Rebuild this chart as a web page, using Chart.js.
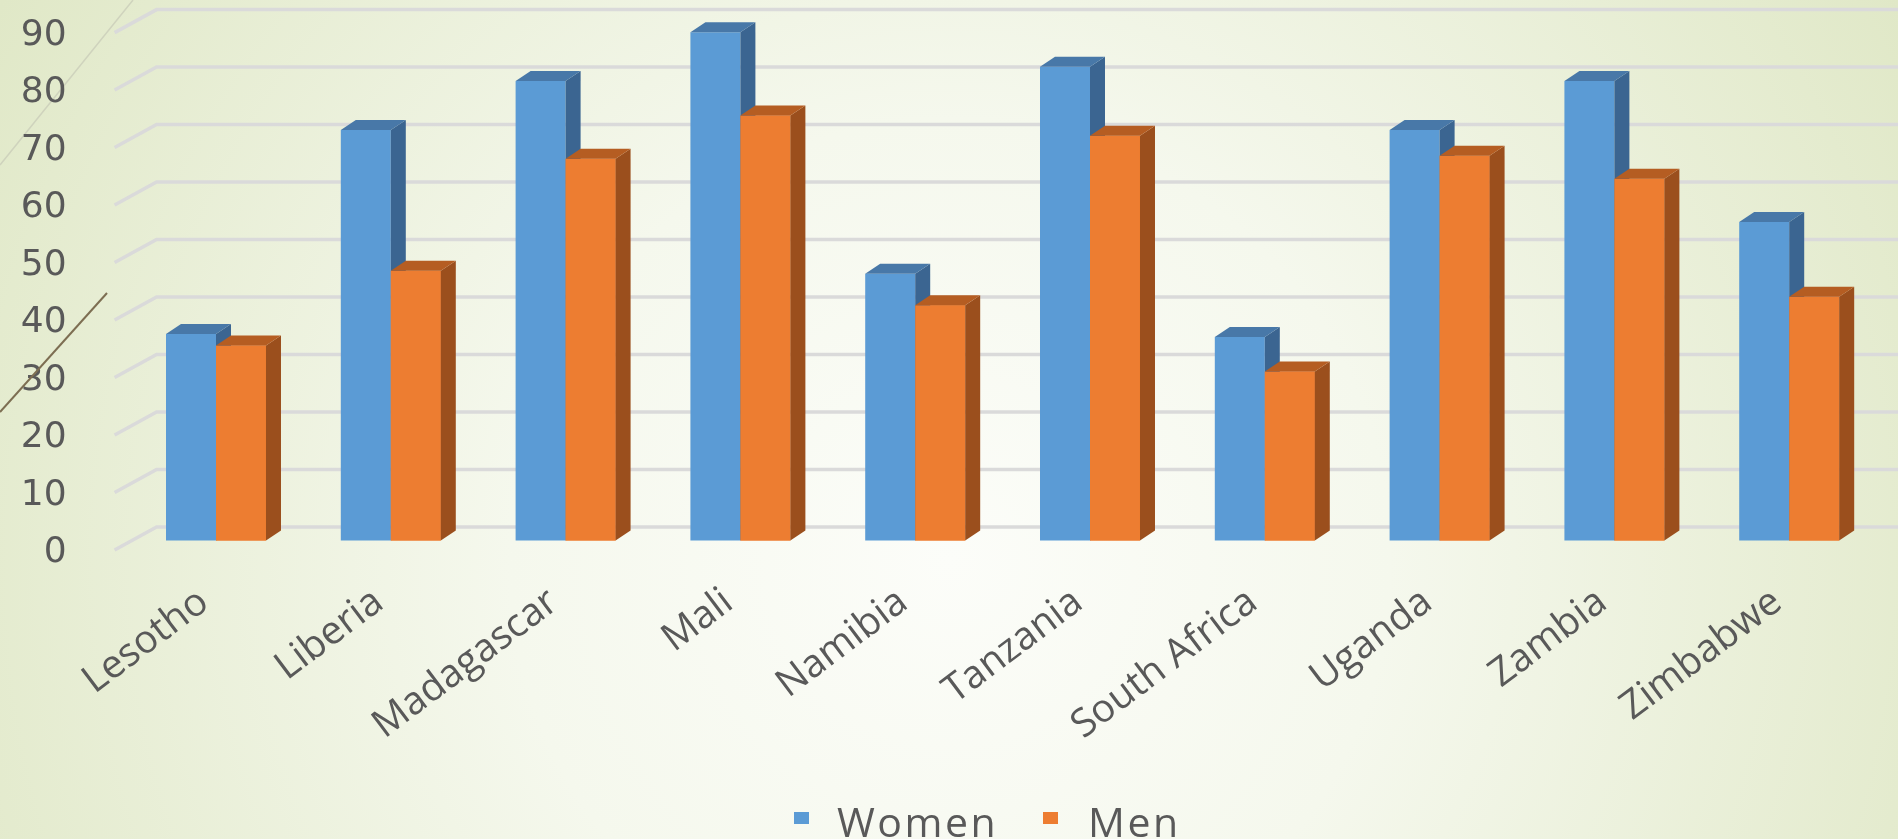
<!DOCTYPE html>
<html>
<head>
<meta charset="utf-8">
<title>Women and Men by country</title>
<script src="https://cdn.jsdelivr.net/npm/chart.js@4.4.1/dist/chart.umd.min.js"></script>
<style>
  html, body { margin: 0; padding: 0; overflow: hidden; }
  #chartContainer { width: 1898px; height: 839px; position: relative; }
</style>
</head>
<body>
<div id="chartContainer"><canvas id="myChart"></canvas></div>
<script>
"use strict";

// values
const countries = ["Lesotho", "Liberia", "Madagascar", "Mali", "Namibia",
  "Tanzania", "South Africa", "Uganda", "Zambia", "Zimbabwe"];
const women = [36, 71.5, 80, 88.5, 46.5, 82.5, 35.5, 71.5, 80, 55.5];
const men = [34, 47, 66.5, 74, 41, 70.5, 29.5, 67, 63, 42.5];
const seriesNames = ["Women", "Men"];
const yMin = 0;
const yMax = 90;
const yStep = 10;

const textColor = "#595959";
const depthX = 15;
const depthY = 10;

// slide background + the two theme strokes at top left
const backgroundPlugin = {
  id: "slideBackground",
  beforeDraw(chart) {
    const ctx = chart.ctx;
    ctx.save();
    const g = ctx.createRadialGradient(950, 560, 0, 950, 560, 1100);
    g.addColorStop(0, "#fcfdf9");
    g.addColorStop(0.4, "#f5f8ed");
    g.addColorStop(1, "#e0e8c7");
    ctx.fillStyle = g;
    ctx.fillRect(0, 0, chart.width, chart.height);

    ctx.lineWidth = 1.5;
    ctx.strokeStyle = "#cfd3bd";
    ctx.beginPath();
    ctx.moveTo(0, 165);
    ctx.lineTo(133, 0);
    ctx.stroke();
    ctx.restore();
  },
  afterDraw(chart) {
    const ctx = chart.ctx;
    ctx.save();
    ctx.lineWidth = 2;
    ctx.strokeStyle = "#7d6e52";
    ctx.beginPath();
    ctx.moveTo(0, 412);
    ctx.lineTo(107, 293);
    ctx.stroke();
    ctx.restore();
  }
};

// gridlines on the side wall and back wall
const wallGridPlugin = {
  id: "wallGrid",
  beforeDatasetsDraw(chart) {
    const ctx = chart.ctx;
    const yScale = chart.scales.y;
    const frontX = chart.chartArea.left - 14;
    const backX = frontX + 42;
    ctx.save();
    ctx.strokeStyle = "#dadada";
    ctx.lineWidth = 3.5;
    yScale.ticks.forEach(function (t) {
      const py = yScale.getPixelForValue(t.value);
      ctx.beginPath();
      ctx.moveTo(frontX, py + 9);
      ctx.lineTo(backX, py - 14);
      ctx.lineTo(chart.width, py - 14);
      ctx.stroke();
    });
    ctx.restore();
  }
};

// side and top faces of each column; later series are redrawn so they
// hide the side face of the column on their left
const columnDepthPlugin = {
  id: "columnDepth",
  afterDatasetsDraw(chart) {
    const ctx = chart.ctx;
    ctx.save();
    chart.data.datasets.forEach(function (ds, i) {
      const meta = chart.getDatasetMeta(i);
      meta.data.forEach(function (bar) {
        if (i > 0) {
          bar.draw(ctx);
        }
        const p = bar.getProps(["x", "y", "base", "width"], true);
        const l = p.x - p.width / 2;
        const r = p.x + p.width / 2;
        const top = Math.min(p.y, p.base);
        const bottom = Math.max(p.y, p.base);

        ctx.fillStyle = ds.sideColor;
        ctx.beginPath();
        ctx.moveTo(r, top);
        ctx.lineTo(r + depthX, top - depthY);
        ctx.lineTo(r + depthX, bottom - depthY);
        ctx.lineTo(r, bottom);
        ctx.closePath();
        ctx.fill();

        ctx.fillStyle = ds.topColor;
        ctx.beginPath();
        ctx.moveTo(l, top);
        ctx.lineTo(l + depthX, top - depthY);
        ctx.lineTo(r + depthX, top - depthY);
        ctx.lineTo(r, top);
        ctx.closePath();
        ctx.fill();
      });
    });
    ctx.restore();
  }
};

// legend at the bottom
const bottomLegendPlugin = {
  id: "bottomLegend",
  afterDraw(chart) {
    const ctx = chart.ctx;
    const spots = [{ box: 794, text: 837 }, { box: 1043, text: 1088 }];
    ctx.save();
    ctx.font = '41px "Open Sans"';
    ctx.letterSpacing = "2.5px";
    ctx.textBaseline = "alphabetic";
    chart.data.datasets.forEach(function (ds, i) {
      ctx.fillStyle = ds.backgroundColor;
      ctx.fillRect(spots[i].box, 812, 15, 12);
      ctx.fillStyle = textColor;
      ctx.fillText(ds.label, spots[i].text, 837);
    });
    ctx.restore();
  }
};

const chartConfig = {
  type: "bar",
  data: {
    labels: countries,
    datasets: [
      {
        label: seriesNames[0],
        data: women,
        backgroundColor: "#5b9bd5",
        sideColor: "#3b6591",
        topColor: "#4878a8",
      },
      {
        label: seriesNames[1],
        data: men,
        backgroundColor: "#ed7d31",
        sideColor: "#9b4f1d",
        topColor: "#b55d22",
      },
    ],
  },
  options: {
    responsive: true,
    maintainAspectRatio: false,
    animation: false,
    categoryPercentage: 0.572,
    barPercentage: 1.0,
    layout: {
      padding: { left: 20.6, right: 21.4, top: 23.5, bottom: 0 },
    },
    plugins: {
      legend: { display: false },
      tooltip: { enabled: false },
    },
    scales: {
      x: {
        grid: { display: false, drawTicks: false },
        border: { display: false },
        ticks: {
          autoSkip: false,
          minRotation: 37,
          maxRotation: 37,
          padding: 38,
          labelOffset: -12,
          color: textColor,
          font: { family: "Open Sans", size: 39 },
        },
        afterFit(scale) {
          scale.height = 298;
        },
      },
      y: {
        min: yMin,
        max: yMax,
        grid: {
          display: true,
          drawOnChartArea: false,
          drawTicks: true,
          tickLength: 60,
          color: "rgba(0,0,0,0)",
        },
        border: { display: false },
        ticks: {
          stepSize: yStep,
          padding: 2,
          labelOffset: 12,
          color: textColor,
          font: { family: "DejaVu Sans", size: 36 },
        },
        afterFit(scale) {
          scale.width = 108;
        },
      },
    },
  },
  plugins: [backgroundPlugin, wallGridPlugin, columnDepthPlugin, bottomLegendPlugin],
};

const canvas = document.getElementById("myChart");
const myChart = new Chart(canvas.getContext("2d"), chartConfig);
</script>
</body>
</html>
